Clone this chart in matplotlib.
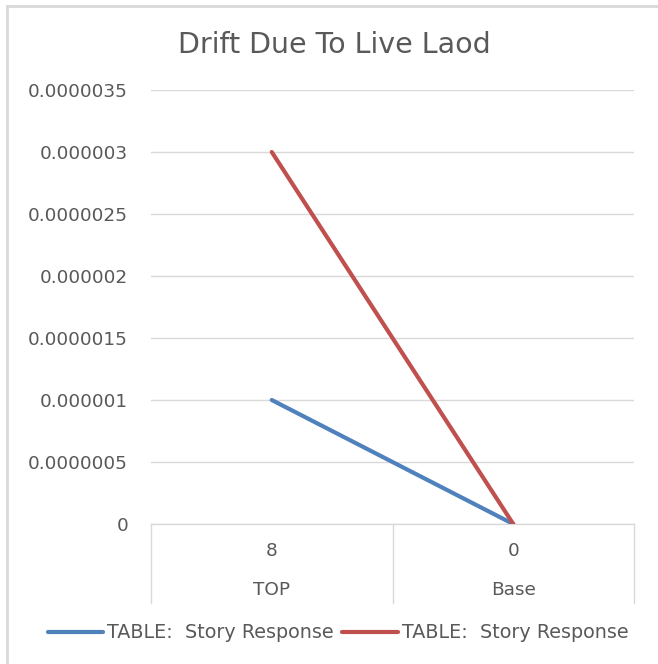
import matplotlib
matplotlib.use("Agg")
import matplotlib.pyplot as plt
from matplotlib.lines import Line2D

# chart data
floors = ["8", "0"]
stories = ["TOP", "Base"]
series_names = ["TABLE:  Story Response", "TABLE:  Story Response"]
drift_blue = [0.000001, 0.0]
drift_red = [0.000003, 0.0]
y_ticks = [0, 0.0000005, 0.000001, 0.0000015, 0.000002, 0.0000025, 0.000003, 0.0000035]
y_labels = ["0", "0.0000005", "0.000001", "0.0000015", "0.000002", "0.0000025", "0.000003", "0.0000035"]

TEXT = "#595959"
GRID = "#D9D9D9"
plt.rcParams["font.family"] = ["DejaVu Sans"]
FS = 13.3

fig = plt.figure(figsize=(6.58, 6.64), dpi=100)
W, H = 658, 664
ax = fig.add_axes([151 / W, (H - 524) / H, (634 - 151) / W, (524 - 90) / H])

x = list(range(len(floors)))
ax.plot(x, drift_blue, color="#4F81BD", lw=3, label=series_names[0], solid_capstyle="round", zorder=3)
ax.plot(x, drift_red, color="#C0504D", lw=3, label=series_names[1], solid_capstyle="round", zorder=3)

ax.set_xlim(-0.5, len(floors) - 0.5)
ax.set_ylim(0, 0.0000035)
ax.set_yticks(y_ticks)
ax.set_yticklabels(y_labels)
ax.tick_params(axis="y", length=0, pad=16.5, labelsize=FS, labelcolor=TEXT)
ax.set_xticks([])
ax.grid(axis="y", color=GRID, lw=1)
ax.axhline(0, color=GRID, lw=1, clip_on=False, zorder=1)
ax.set_axisbelow(True)
for s in ax.spines.values():
    s.set_visible(False)

# two-level category axis
depth = (603 - 524) / (524 - 90)
for b in [-0.5, 0.5, 1.5]:
    ax.plot([b, b], [0, -depth], color=GRID, lw=1, transform=ax.get_xaxis_transform(), clip_on=False)
for i, (f, s) in enumerate(zip(floors, stories)):
    ax.text(i, -27 / 434, f, transform=ax.get_xaxis_transform(), ha="center", va="center",
            fontsize=FS, color=TEXT)
    ax.text(i, -66 / 434, s, transform=ax.get_xaxis_transform(), ha="center", va="center",
            fontsize=FS, color=TEXT)

fig.text(334 / W, (H - 45) / H, "Drift Due To Live Laod", ha="center", va="center",
         fontsize=20.5, color=TEXT)

fig.legend(loc="center", bbox_to_anchor=(338 / W, 31 / H), ncol=2, frameon=False,
           fontsize=13.8, labelcolor=TEXT, handlelength=2.9, handletextpad=0.2,
           columnspacing=0.45)

# chart border
fig.add_artist(Line2D([7 / W, 7 / W], [0, (H - 6) / H], color=GRID, lw=2))
fig.add_artist(Line2D([7 / W, 1], [(H - 6) / H, (H - 6) / H], color=GRID, lw=2))

fig.savefig("out.png", dpi=100)
